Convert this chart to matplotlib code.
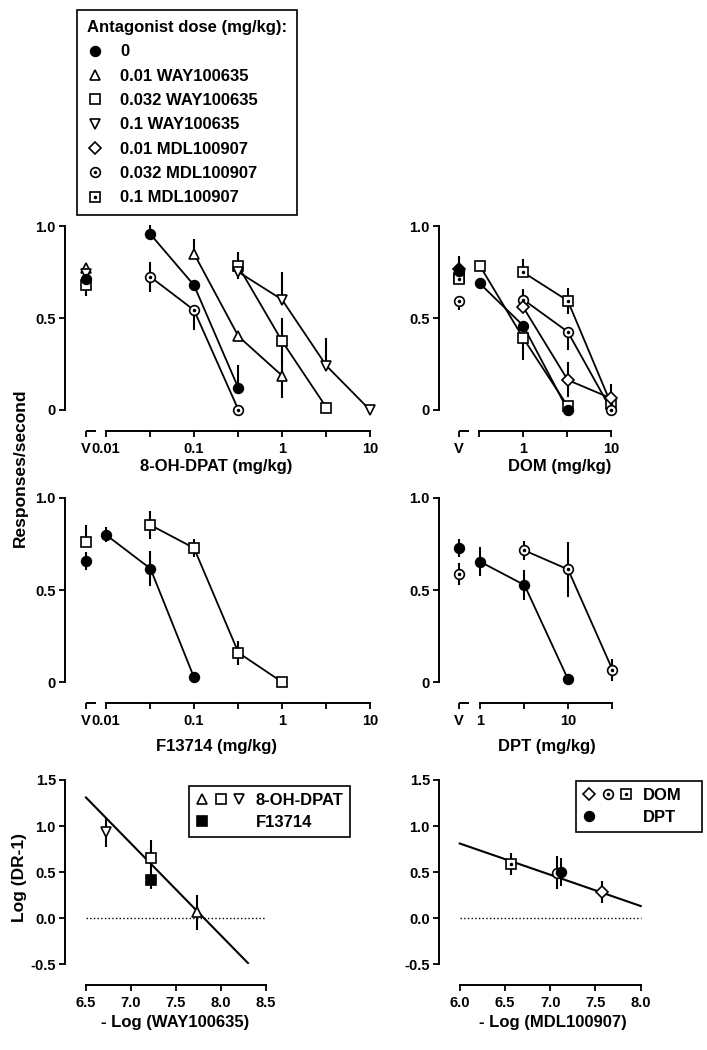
import numpy as np
import matplotlib.pyplot as plt
from matplotlib.lines import Line2D
from matplotlib.legend_handler import HandlerTuple

plt.rcParams['font.family'] = ['Liberation Sans', 'DejaVu Sans']
plt.rcParams['font.weight'] = 'bold'
plt.rcParams['axes.linewidth'] = 1.4
plt.rcParams['axes.unicode_minus'] = False

W, H = 707, 1050

# ---- 8-OH-DPAT panel (doses mg/kg) ----
dpat_veh = {'ctrl': 0.71, 'way01': 0.77, 'way032': 0.68, 'way1': 0.74}
dpat_veh_lo = {'ctrl': 0.03, 'way01': 0.0, 'way032': 0.06, 'way1': 0.0}
dpat_ctrl_x = [0.032, 0.1, 0.32]
dpat_ctrl_y = [0.955, 0.678, 0.118]
dpat_ctrl_hi = [0.05, 0.0, 0.127]
dpat_ctrl_lo = [0.0, 0.0, 0.0]
dpat_way01_x = [0.1, 0.32, 1.0]
dpat_way01_y = [0.85, 0.40, 0.187]
dpat_way01_hi = [0.08, 0.0, 0.09]
dpat_way01_lo = [0.0, 0.0, 0.12]
dpat_way032_x = [0.32, 1.0, 3.2]
dpat_way032_y = [0.78, 0.375, 0.013]
dpat_way032_hi = [0.08, 0.125, 0.0]
dpat_way032_lo = [0.0, 0.125, 0.0]
dpat_way1_x = [0.32, 1.0, 3.2, 10.0]
dpat_way1_y = [0.75, 0.60, 0.24, 0.0]
dpat_way1_hi = [0.0, 0.15, 0.15, 0.0]
dpat_way1_lo = [0.04, 0.0, 0.0, 0.0]
dpat_mdl032_x = [0.032, 0.1, 0.32]
dpat_mdl032_y = [0.723, 0.543, 0.0]
dpat_mdl032_hi = [0.08, 0.0, 0.0]
dpat_mdl032_lo = [0.08, 0.11, 0.0]

# ---- DOM panel ----
dom_veh = {'ctrl': 0.755, 'way032': 0.72, 'mdl01': 0.765, 'mdl032': 0.594, 'mdl1': 0.71}
dom_veh_hi = {'ctrl': 0.0, 'way032': 0.0, 'mdl01': 0.07, 'mdl032': 0.0, 'mdl1': 0.0}
dom_veh_lo = {'ctrl': 0.0, 'way032': 0.0, 'mdl01': 0.0, 'mdl032': 0.05, 'mdl1': 0.0}
dom_ctrl_x = [0.32, 1.0, 3.2]
dom_ctrl_y = [0.688, 0.458, 0.0]
dom_way032_x = [0.32, 1.0, 3.2]
dom_way032_y = [0.785, 0.39, 0.02]
dom_way032_hi = [0.0, 0.0, 0.0]
dom_way032_lo = [0.0, 0.12, 0.0]
dom_mdl01_x = [1.0, 3.2, 10.0]
dom_mdl01_y = [0.558, 0.163, 0.063]
dom_mdl01_hi = [0.0, 0.10, 0.08]
dom_mdl01_lo = [0.0, 0.09, 0.0]
dom_mdl032_x = [1.0, 3.2, 10.0]
dom_mdl032_y = [0.60, 0.425, 0.0]
dom_mdl032_hi = [0.06, 0.0, 0.0]
dom_mdl032_lo = [0.0, 0.10, 0.0]
dom_mdl1_x = [1.0, 3.2, 10.0]
dom_mdl1_y = [0.748, 0.594, 0.03]
dom_mdl1_hi = [0.07, 0.07, 0.0]
dom_mdl1_lo = [0.0, 0.07, 0.0]

# ---- F13714 panel ----
f13_veh = {'ctrl': 0.656, 'way032': 0.761}
f13_veh_err = {'ctrl': 0.05, 'way032': 0.09}
f13_ctrl_x = [0.01, 0.032, 0.1]
f13_ctrl_y = [0.80, 0.616, 0.025]
f13_ctrl_err = [0.04, 0.095, 0.0]
f13_way032_x = [0.032, 0.1, 0.32, 1.0]
f13_way032_y = [0.853, 0.728, 0.159, 0.0]
f13_way032_err = [0.075, 0.05, 0.065, 0.0]

# ---- DPT panel ----
dpt_veh = {'ctrl': 0.728, 'mdl032': 0.585}
dpt_veh_err = {'ctrl': 0.05, 'mdl032': 0.06}
dpt_ctrl_x = [1.0, 3.2, 10.0]
dpt_ctrl_y = [0.654, 0.527, 0.015]
dpt_ctrl_err = [0.08, 0.08, 0.0]
dpt_mdl032_x = [3.2, 10.0, 32.0]
dpt_mdl032_y = [0.715, 0.612, 0.067]
dpt_mdl032_err = [0.05, 0.15, 0.06]

# ---- Schild plots ----
schild_way_x = [6.72, 7.22, 7.73]
schild_way_y = [0.93, 0.65, 0.06]
schild_way_err = [0.16, 0.20, 0.19]
schild_way_mk = ['v', 's', '^']
schild_f13_x = [7.22]
schild_f13_y = [0.41]
schild_f13_err = [0.09]
way_fit_x = [6.5, 8.3]
way_fit_y = [1.31, -0.49]

schild_mdl_x = [6.57, 7.08, 7.57]
schild_mdl_y = [0.59, 0.49, 0.28]
schild_mdl_err = [0.12, 0.18, 0.12]
schild_mdl_mk = ['s', 'o', 'D']
schild_dpt_x = [7.12]
schild_dpt_y = [0.50]
schild_dpt_err = [0.15]
mdl_fit_x = [6.0, 8.0]
mdl_fit_y = [0.81, 0.13]

MS = 7
MEW = 1.2


class Dotted(tuple):
    """marker + small centre dot, drawn on top of each other in legends"""
    pass


def rect(l, t, r, b):
    return [l / W, 1 - b / H, (r - l) / W, (b - t) / H]


def mk(marker, filled=False):
    ms = MS - 1 if marker == 'D' else MS
    return dict(ls='none', marker=marker, ms=ms, mfc='k' if filled else 'white',
                mec='k', mew=MEW)


def h(marker, filled=False, dot=False):
    line = Line2D([], [], **mk(marker, filled))
    if dot:
        return Dotted((line, Line2D([], [], ls='none', marker='o', ms=1.5, color='k')))
    return line


def series(ax, x, y, lo, hi, marker, filled=False, dot=False, line=True):
    x = np.asarray(x, float)
    y = np.asarray(y, float)
    ax.errorbar(x, y, yerr=[lo, hi], fmt='none', ecolor='k', elinewidth=1.5,
                capsize=0, zorder=2, clip_on=False)
    if line:
        ax.plot(x, y, '-', color='k', lw=1.3, zorder=3, clip_on=False)
    ax.plot(x, y, zorder=4, clip_on=False, **mk(marker, filled))
    if dot:
        ax.plot(x, y, ls='none', marker='o', ms=1.5, color='k', zorder=5, clip_on=False)


def style(ax):
    for s in ['top', 'right']:
        ax.spines[s].set_visible(False)
    ax.tick_params(direction='out', length=4.5, width=1.3, labelsize=10.5, pad=2)
    ax.tick_params(axis='x', pad=3.5)
    ax.spines['bottom'].set_position(('outward', 15))


def dose_axes(box, left, vpos, bounds, ticks, labels):
    ax = fig.add_axes(rect(*box))
    px = box[2] - box[0]
    ax.set_xlim(left, left + px / 88.0)
    ax.set_ylim(0, 1)
    style(ax)
    ax.spines['bottom'].set_bounds(*bounds)
    ax.spines['left'].set_bounds(0, 1)
    ax.set_xticks([vpos] + ticks)
    ax.set_xticklabels(['V'] + labels)
    ax.set_yticks([0, 0.5, 1.0])
    ax.set_yticklabels(['0', '0.5', '1.0'])
    trans = ax.spines['bottom'].get_spine_transform()
    ax.plot([vpos, vpos + 0.114], [0, 0], transform=trans, color='k', lw=1.4,
            clip_on=False, solid_capstyle='butt')
    return ax


def small_legend(ax, handles, labels, x0, y0, x1):
    leg = ax.legend(handles, labels,
                    handler_map={tuple: HandlerTuple(ndivide=None, pad=0.3),
                                 Dotted: HandlerTuple(ndivide=1)},
                    loc='upper left', bbox_to_anchor=(x0 / W, 1 - y0 / H, (x1 - x0) / W, 0),
                    bbox_transform=fig.transFigure, mode='expand', frameon=True, fancybox=False,
                    edgecolor='k', framealpha=1, fontsize=12, handlelength=3.0,
                    handletextpad=0.6, labelspacing=0.45, borderpad=0.4, borderaxespad=0)
    leg.get_frame().set_linewidth(1.2)


fig = plt.figure(figsize=(W / 100, H / 100), dpi=100)
lg = np.log10
half = ['', '0.1', '', '1', '', '10']

# A: 8-OH-DPAT
vA = -2.227
ax = dose_axes((65, 226, 380, 410), -2.466, vA, (-2, 1),
               [-2, -1.5, -1, -0.5, 0, 0.5, 1], ['0.01'] + half)
for key, m in [('way01', '^'), ('way1', 'v'), ('way032', 's'), ('ctrl', 'o')]:
    series(ax, [vA], [dpat_veh[key]], [dpat_veh_lo[key]], [0], m,
           filled=(key == 'ctrl'), line=False)
series(ax, lg(dpat_ctrl_x), dpat_ctrl_y, dpat_ctrl_lo, dpat_ctrl_hi, 'o', filled=True)
series(ax, lg(dpat_mdl032_x), dpat_mdl032_y, dpat_mdl032_lo, dpat_mdl032_hi, 'o', dot=True)
series(ax, lg(dpat_way01_x), dpat_way01_y, dpat_way01_lo, dpat_way01_hi, '^')
series(ax, lg(dpat_way032_x), dpat_way032_y, dpat_way032_lo, dpat_way032_hi, 's')
series(ax, lg(dpat_way1_x), dpat_way1_y, dpat_way1_lo, dpat_way1_hi, 'v')

# B: DOM
vB = -0.73
ax = dose_axes((439, 226, 700, 410), -0.958, vB, (-0.5, 1),
               [-0.5, 0, 0.5, 1], ['', '1', '', '10'])
for key, m, f, d in [('mdl032', 'o', False, True), ('way032', 's', False, False),
                     ('mdl1', 's', False, True), ('ctrl', 'o', True, False),
                     ('mdl01', 'D', True, False)]:
    series(ax, [vB], [dom_veh[key]], [dom_veh_lo[key]], [dom_veh_hi[key]], m,
           filled=f, dot=d, line=False)
z = [0, 0, 0]
series(ax, lg(dom_mdl1_x), dom_mdl1_y, dom_mdl1_lo, dom_mdl1_hi, 's', dot=True)
series(ax, lg(dom_mdl032_x), dom_mdl032_y, dom_mdl032_lo, dom_mdl032_hi, 'o', dot=True)
series(ax, lg(dom_mdl01_x), dom_mdl01_y, dom_mdl01_lo, dom_mdl01_hi, 'D')
series(ax, lg(dom_way032_x), dom_way032_y, dom_way032_lo, dom_way032_hi, 's')
series(ax, lg(dom_ctrl_x), dom_ctrl_y, z, z, 'o', filled=True)

# C: F13714
ax = dose_axes((65, 498, 380, 682), -2.466, vA, (-2, 1),
               [-2, -1.5, -1, -0.5, 0, 0.5, 1], ['0.01'] + half)
series(ax, [vA], [f13_veh['way032']], [0], [f13_veh_err['way032']], 's', line=False)
series(ax, [vA], [f13_veh['ctrl']], [f13_veh_err['ctrl']], [f13_veh_err['ctrl']], 'o',
       filled=True, line=False)
series(ax, lg(f13_way032_x), f13_way032_y, f13_way032_err, f13_way032_err, 's')
series(ax, lg(f13_ctrl_x), f13_ctrl_y, f13_ctrl_err, f13_ctrl_err, 'o', filled=True)

# D: DPT
vD = -0.239
ax = dose_axes((439, 498, 700, 682), -0.466, vD, (0, 1.5),
               [0, 0.5, 1, 1.5], ['1', '', '10', ''])
series(ax, [vD], [dpt_veh['mdl032']], [dpt_veh_err['mdl032']], [dpt_veh_err['mdl032']], 'o',
       dot=True, line=False)
series(ax, [vD], [dpt_veh['ctrl']], [dpt_veh_err['ctrl']], [dpt_veh_err['ctrl']], 'o',
       filled=True, line=False)
series(ax, lg(dpt_mdl032_x), dpt_mdl032_y, dpt_mdl032_err, dpt_mdl032_err, 'o', dot=True)
series(ax, lg(dpt_ctrl_x), dpt_ctrl_y, dpt_ctrl_err, dpt_ctrl_err, 'o', filled=True)

# E: Schild WAY100635
ax = fig.add_axes(rect(65, 780, 300, 964))
ax.set_xlim(6.267, 6.267 + 235 / 90.0)
ax.set_ylim(-0.5, 1.5)
style(ax)
ax.spines['bottom'].set_bounds(6.5, 8.5)
ax.set_xticks(np.arange(6.5, 8.51, 0.5))
ax.set_yticks(np.arange(-0.5, 1.51, 0.5))
ax.xaxis.set_major_formatter('{x:.1f}')
ax.yaxis.set_major_formatter('{x:.1f}')
ax.hlines(0, 6.5, 8.5, colors='k', linestyles=':', lw=1)
ax.plot(way_fit_x, way_fit_y, color='k', lw=1.5, zorder=3)
for x, y, e, m in zip(schild_way_x, schild_way_y, schild_way_err, schild_way_mk):
    series(ax, [x], [y], [e], [e], m, line=False)
series(ax, schild_f13_x, schild_f13_y, schild_f13_err, schild_f13_err, 's', filled=True, line=False)
blank = Line2D([], [], ls='none')
small_legend(ax, [(h('^'), h('s'), h('v')), (h('s', True), blank, blank)],
             ['8-OH-DPAT', 'F13714'], 189, 786, 350)

# F: Schild MDL100907
ax = fig.add_axes(rect(439, 780, 700, 964))
ax.set_xlim(5.771, 5.771 + 261 / 90.5)
ax.set_ylim(-0.5, 1.5)
style(ax)
ax.spines['bottom'].set_bounds(6.0, 8.0)
ax.set_xticks(np.arange(6.0, 8.01, 0.5))
ax.set_yticks(np.arange(-0.5, 1.51, 0.5))
ax.xaxis.set_major_formatter('{x:.1f}')
ax.yaxis.set_major_formatter('{x:.1f}')
ax.hlines(0, 6.0, 8.0, colors='k', linestyles=':', lw=1)
ax.plot(mdl_fit_x, mdl_fit_y, color='k', lw=1.5, zorder=3, clip_on=False)
for x, y, e, m in zip(schild_mdl_x, schild_mdl_y, schild_mdl_err, schild_mdl_mk):
    series(ax, [x], [y], [e], [e], m, dot=(m != 'D'), line=False)
series(ax, schild_dpt_x, schild_dpt_y, schild_dpt_err, schild_dpt_err, 'o', filled=True, line=False)
small_legend(ax, [(h('D'), h('o', dot=True), h('s', dot=True)), (h('o', True), blank, blank)],
             ['DOM', 'DPT'], 576, 781, 702)


# axis titles
def label(x, y, s, size=12, **kw):
    fig.text(x / W, 1 - y / H, s, ha='center', va='center', fontsize=size,
             fontweight='bold', **kw)


label(216, 466, '8-OH-DPAT (mg/kg)')
label(560, 466, 'DOM (mg/kg)')
label(216, 747, 'F13714 (mg/kg)')
label(547, 747, 'DPT (mg/kg)')
label(175, 1023, '- Log (WAY100635)')
label(553, 1023, '- Log (MDL100907)')
label(20, 468, 'Responses/second', size=12.5, rotation=90)
label(20, 877, 'Log (DR-1)', size=12.5, rotation=90)

# top legend
handles = [h('o', True), h('^'), h('s'), h('v'), h('D'), h('o', dot=True), h('s', dot=True)]
labels = ['0', '0.01 WAY100635', '0.032 WAY100635', '0.1 WAY100635',
          '0.01 MDL100907', '0.032 MDL100907', '0.1 MDL100907']
leg = fig.legend(handles, labels, loc='upper left', bbox_to_anchor=(77 / W, 1 - 10 / H),
                 handler_map={Dotted: HandlerTuple(ndivide=1)},
                 title='Antagonist dose (mg/kg):', title_fontproperties={'weight': 'bold', 'size': 12},
                 alignment='left', frameon=True, fancybox=False, edgecolor='k', framealpha=1,
                 fontsize=12, handlelength=1.0, handletextpad=1.0, labelspacing=0.56,
                 borderpad=0.6, borderaxespad=0)
leg.get_frame().set_linewidth(1.2)

fig.savefig('out.png', dpi=100)
